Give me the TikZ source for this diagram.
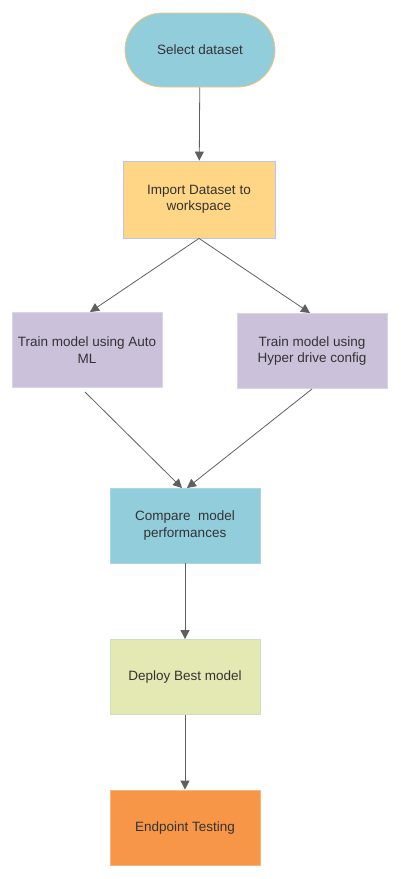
\documentclass[tikz,border=0pt]{standalone}
\usepackage{fontspec}
\setmainfont{Liberation Sans}
\usetikzlibrary{arrows.meta}
\definecolor{cblue}{HTML}{92CDDC}
\definecolor{cyel}{HTML}{FFD685}
\definecolor{cpur}{HTML}{CCC1DA}
\definecolor{cgreen}{HTML}{E4E8B2}
\definecolor{corange}{HTML}{F79646}
\definecolor{cline}{HTML}{5F5F5F}
\definecolor{ctext}{HTML}{333333}
\tikzset{
  box/.style={draw=#1, line width=0.8pt, minimum width=150pt, minimum height=75pt, inner sep=2pt,
    align=center, font=\fontsize{13.5pt}{16.5pt}\selectfont, text=ctext},
  conn/.style={draw=cline, line width=0.8pt, -{Triangle[length=9pt,width=9pt]}},
}
\begin{document}
\begin{tikzpicture}[x=1pt,y=-1pt]
\useasboundingbox (0,0) rectangle (400,879);
\node[box=cyel!80!brown, fill=cblue, rounded corners=37pt, minimum height=74pt] (sel) at (200,50) {Select dataset};
\node[box=blue!25, fill=cyel, minimum width=152pt, minimum height=77pt] (imp) at (199,199.5) {Import Dataset to\\workspace};
\node[box=cpur!70, fill=cpur] (aml) at (87,350) {Train model using Auto\\ML};
\node[box=cpur!70, fill=cpur] (hyp) at (312,351) {Train model using\\Hyper drive config};
\node[box=cblue!80, fill=cblue] (cmp) at (185,525.5) {Compare\ \ model\\performances};
\node[box=cgreen!70!cblue, fill=cgreen] (dep) at (185,677) {Deploy Best model};
\node[box=corange!70, fill=corange] (end) at (185,827.5) {Endpoint Testing};
\coordinate (amlo) at (85,392);
\coordinate (hypo) at (312,389);
\coordinate (cmpa) at (182,488);
\coordinate (cmpb) at (187,488);
\coordinate (amli) at (90,312);
\coordinate (hypi) at (310,313);
\draw[conn] (sel) -- (imp);
\draw[conn] (imp.south) -- (amli);
\draw[conn] (imp.south) -- (hypi);
\draw[conn] (amlo) -- (cmpa);
\draw[conn] (hypo) -- (cmpb);
\draw[conn] (cmp) -- (dep);
\draw[conn] (dep) -- (end);
\end{tikzpicture}
\end{document}
